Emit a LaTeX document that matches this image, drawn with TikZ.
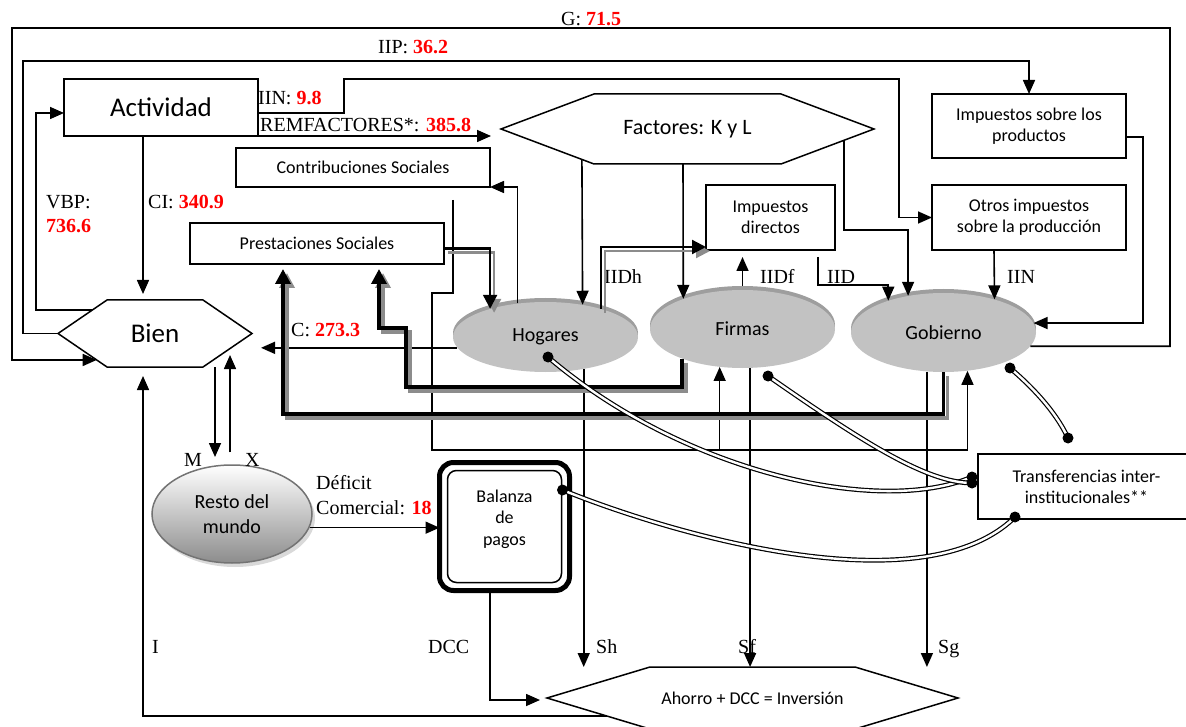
\documentclass[tikz,border=0pt]{standalone}
\usepackage{fontspec}
\setmainfont{Liberation Serif}
\newfontfamily\calib{Carlito}
\usetikzlibrary{arrows.meta}
\usetikzlibrary{calc}
\usetikzlibrary{shadows}
\usetikzlibrary{shapes.geometric}

\newcommand{\valor}[1]{\textcolor{red}{\textbf{#1}}}
\newcommand{\labfont}{\fontsize{20}{22}\selectfont}
\newcommand{\boxfont}{\calib\fontsize{18}{21}\selectfont}
\newcommand{\hexa}[2]{\draw[line width=1.5pt] (#1.west) -- ([xshift=#2]#1.north west) -- ([xshift=-#2]#1.north east) -- (#1.east) -- ([xshift=-#2]#1.south east) -- ([xshift=#2]#1.south west) -- cycle;}
\newcommand{\sombra}[2]{%
    \begin{scope}[transform canvas={xshift=4pt,yshift=-4pt}]
        \draw[black!45, #1] #2;
    \end{scope}
    \draw[#1] #2;}

\tikzset{
    arr/.style={line width=1.6pt, -{Triangle[length=14pt,width=12pt]}},
    tarr/.style={line width=3.5pt, -{Triangle[length=15pt,width=15pt]}},
    marr/.style={line width=2.2pt, -{Triangle[length=14pt,width=14pt]}},
    caja/.style={draw, line width=1.5pt, inner sep=0pt, outer sep=0pt, align=center, font=\boxfont},
    hexnode/.style={inner sep=0pt, outer sep=0pt, align=center},
    sector/.style={ellipse, fill=black!24, inner sep=0pt, minimum width=185pt, minimum height=70pt, font=\calib\fontsize{20}{24}\selectfont, general shadow={fill=black!38, shadow yshift=4pt}},
    lab/.style={anchor=base west, inner sep=0pt, font=\labfont},
    dbl/.style={double distance=2.4pt, line width=1.2pt}
}

\begin{document}
\begin{tikzpicture}[x=1pt, y=-1pt]

    \useasboundingbox (0,0) rectangle (1186,727);

    \node[caja, font=\calib\fontsize{27}{30}\selectfont, minimum width=194pt, minimum height=57pt] (act) at (161,107.5) {Actividad};
    \node[hexnode, font=\calib\fontsize{27}{30}\selectfont, minimum width=194pt, minimum height=67pt] (bien) at (155,333.5) {Bien};
    \hexa{bien}{49pt}
    \node[hexnode, font=\calib\fontsize{22}{26}\selectfont, minimum width=373pt, minimum height=70pt] (fac) at (687.5,129) {Factores: K y L};
    \hexa{fac}{93pt}
    \node[hexnode, font=\boxfont, minimum width=411pt, minimum height=62pt] (ahr) at (752.5,698) {Ahorro + DCC = Inversión};
    \hexa{ahr}{103pt}

    \node[caja, minimum width=254pt, minimum height=39pt] (cs) at (363,167.5) {Contribuciones Sociales};
    \node[caja, minimum width=254pt, minimum height=41pt] (ps) at (317,243.5) {Prestaciones Sociales};
    \node[caja, minimum width=129pt, minimum height=65pt] (idi) at (770.5,217.5) {Impuestos\\directos};
    \node[caja, minimum width=194pt, minimum height=65pt] (oip) at (1029,217.5) {Otros impuestos\\sobre la producción};
    \node[caja, minimum width=194pt, minimum height=64pt] (isp) at (1029,126) {Impuestos sobre los\\productos};
    \node[caja, minimum width=217pt, minimum height=65pt] (tra) at (1086.5,486.5) {Transferencias inter-\\institucionales**};

    \node[caja, rounded corners=14pt, line width=5pt, minimum width=130pt, minimum height=128pt] (bal) at (504.5,526.5) {};
    \draw[line width=1.5pt, rounded corners=9pt] ([shift={(8,8)}]bal.north west) rectangle ([shift={(-8,-8)}]bal.south east);
    \node[font=\calib\fontsize{18}{21.5}\selectfont, align=center, inner sep=0pt] (baltxt) at (504.5,519) {Balanza\\de\\pagos};

    \node[sector] (hog) at (545.5,337) {Hogares};
    \node[sector, minimum height=78pt] (fir) at (742.5,329) {Firmas};
    \node[sector, minimum height=79pt] (gob) at (943.5,332.5) {Gobierno};
    \node[ellipse, draw=black!55, line width=1.5pt, top color=white, bottom color=black!45, minimum width=160pt, minimum height=98pt, inner sep=0pt, align=center, font=\calib\fontsize{20}{25}\selectfont, drop shadow={opacity=0.3, shadow xshift=3pt, shadow yshift=-4pt}] (res) at (232,514) {Resto del\\mundo};

    \node[lab] (lG) at (561,26) {G: \valor{71.5}};
    \node[lab] (lIIP) at (378,54) {IIP: \valor{36.2}};
    \node[lab] (lIIN) at (258,105) {IIN: \valor{9.8}};
    \node[lab] (lREM) at (260,132) {REMFACTORES*: \valor{385.8}};
    \node[lab] (lVBP) at (46,209) {VBP:};
    \node[lab] (lVBPv) at (46,233) {\valor{736.6}};
    \node[lab] (lCI) at (148,209) {CI: \valor{340.9}};
    \node[lab] (lC) at (291,337) {C: \valor{273.3}};
    \node[lab] (lIIDh) at (604,284) {IIDh};
    \node[lab] (lIIDf) at (760,284) {IIDf};
    \node[lab] (lIID) at (827,284) {IID};
    \node[lab] (lIINb) at (1007,284) {IIN};
    \node[lab] (lM) at (184,466) {M};
    \node[lab] (lX) at (245,466) {X};
    \node[lab] (lDef) at (316,489) {Déficit};
    \node[lab] (lCom) at (316,514) {Comercial: \valor{18}};
    \node[lab] (lI) at (152,653) {I};
    \node[lab] (lDCC) at (428,653) {DCC};
    \node[lab] (lSh) at (596,653) {Sh};
    \node[lab] (lSf) at (738,653) {Sf};
    \node[lab] (lSg) at (938,653) {Sg};

    \coordinate (busA) at (432,450);
    \coordinate (sHog) at ($(hog.center)+(2.5,20)$);
    \coordinate (sFir) at ($(fir.center)+(25.5,47)$);
    \coordinate (sGob) at ($(gob.center)+(66.5,35.5)$);
    \coordinate (sBal) at ($(bal.north east)+(-7,27.5)$);
    \coordinate (tHog) at ($(tra.west)+(-6,-9.5)$);
    \coordinate (tFir) at ($(tra.west)+(-6,-3.5)$);
    \coordinate (tGob) at ($(tra.north west)+(90,-16)$);
    \coordinate (tBal) at ($(tra.south west)+(37,-2)$);

    \draw[arr] (gob.-9.6) -| (1170,28) -| (12,360) -- ($(bien.west)!0.79!([xshift=49pt]bien.south west)$);
    \draw[arr] (bien.west) -| (23,61) -| (isp.north);
    \draw[arr] ($(bien.west)!0.70!([xshift=49pt]bien.north west)$) -| (36,113) -- ([yshift=-5.5pt]act.west);
    \draw[arr, shorten >=6pt] ([xshift=-18pt]act.south) -- ([xshift=-18pt]act.south |- bien.north);
    \draw[arr] ([yshift=-5.5pt]act.east) -| (344,79) -| ([xshift=-33pt]oip.west) -- (oip.west);
    \draw[arr] (act.south east) -- ([xshift=-10pt]act.south east -| fac.west);
    \draw[arr] (hog.130.6) |- (cs.south east);
    \draw[arr] ($(cs.south)+(90,13)$) |- (432,293) -- (busA) -| (gob.-58.4);
    \draw[arr] (fir.239.2 |- busA) -- (fir.239.2);
    \draw[arr] ($(fac.west)!0.87!([xshift=93pt]fac.south west)$) -- (hog.41.4);
    \draw[arr] ([xshift=-4.5pt]fac.south) -- (fir.153.3);
    \draw[arr] ($(fac.east)!0.32!([xshift=-93pt]fac.south east)$) -- ++(0,90) -| (gob.134.2);
    \draw[arr, shorten <=4pt, shorten >=7pt] (fir.north) -- (fir.north |- idi.south);
    \draw[arr] ([shift={(47.5,7)}]idi.south) -- ++(0,28) -| (gob.150.3);
    \draw[arr] ([xshift=-35pt]oip.south) -- (gob.33.2);
    \draw[arr] ([yshift=-11pt]isp.east) -- ++(17,0) |- (gob.6);
    \draw[arr, shorten >=9pt] (hog.187) -- (hog.187 -| bien.east);
    \draw[arr, shorten >=8pt] ([xshift=60pt]bien.south) -- ++(0,98);
    \draw[arr] ([xshift=-2pt,yshift=12pt]res.north) -- ([xshift=75pt,yshift=12pt]bien.south);
    \draw[arr] (res.-10) -- (res.-10 -| bal.west);
    \draw[arr] ([xshift=-14.5pt]bal.south) |- ([xshift=-7pt,yshift=-2pt]ahr.west);
    \draw[arr, shorten >=9pt] ($(ahr.west)!0.58!([xshift=103pt]ahr.south west)$) -| ([xshift=-12pt]bien.south);
    \draw[arr] (hog.-40.5) -- (hog.-40.5 |- ahr.north);
    \draw[arr] (fir.-79.1) -- (fir.-79.1 |- ahr.north);
    \draw[arr] (gob.-113) -- (gob.-113 |- ahr.north);

    \sombra{marr}{(hog.27.4) |- ([yshift=3pt]idi.south west)}
    \sombra{marr}{([yshift=-5pt]ps.east) -| (hog.153.2)}
    \sombra{tarr, shorten >=5pt}{(fir.206.7) |- (406,387) |- (379,328) -- ([xshift=62pt]ps.south)}
    \sombra{tarr, shorten >=5pt}{(gob.south) |- (283,414) -- ([xshift=-34pt]ps.south)}

    \draw[dbl] (sHog) .. controls +(132,113) and +(-96,40) .. (tHog);
    \draw[dbl] (sFir) .. controls +(92,64) and +(-46,0) .. (tFir);
    \draw[dbl] (sGob) .. controls +(20,17) and +(-13,-28) .. (tGob);
    \draw[dbl] (sBal) .. controls +(98,40) and +(-95,93) .. (tBal);
    \foreach \p in {sHog,sFir,sGob,sBal,tHog,tFir,tGob,tBal}
        \fill (\p) circle (5.5pt);

\end{tikzpicture}
\end{document}
